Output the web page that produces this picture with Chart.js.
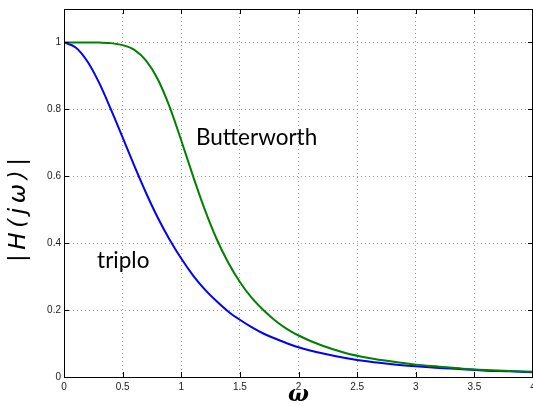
<!DOCTYPE html>
<html>
<head>
<meta charset="utf-8">
<script src="https://cdn.jsdelivr.net/npm/chart.js@4/dist/chart.umd.min.js"></script>
<style>
  html, body { margin: 0; padding: 0; background: #fff; }
  #wrap { width: 533px; height: 406px; }
</style>
</head>
<body>
<div id="wrap"><canvas id="chart" width="533" height="406"></canvas></div>
<script>
// frequency samples (omega) and magnitudes
const omega = [0, 0.1, 0.2, 0.3, 0.4, 0.5, 0.6, 0.7, 0.8, 0.9, 1.0,
  1.1, 1.2, 1.3, 1.4, 1.5, 1.6, 1.7, 1.8, 1.9, 2.0,
  2.2, 2.4, 2.6, 2.8, 3.0, 3.2, 3.4, 3.6, 3.8, 4.0];
const butterworth = [1, 1, 1, 0.9996, 0.998, 0.992, 0.978, 0.946, 0.890, 0.808, 0.707,
  0.601, 0.501, 0.414, 0.342, 0.284, 0.237, 0.200, 0.169, 0.144, 0.124,
  0.094, 0.072, 0.057, 0.046, 0.037, 0.031, 0.025, 0.021, 0.018, 0.016];
const triplo = [1, 0.985, 0.943, 0.879, 0.800, 0.716, 0.631, 0.550, 0.476, 0.411, 0.354,
  0.304, 0.262, 0.227, 0.196, 0.171, 0.149, 0.130, 0.115, 0.101, 0.089,
  0.071, 0.057, 0.046, 0.038, 0.032, 0.027, 0.023, 0.019, 0.017, 0.014];
const yTicks = [0, 0.2, 0.4, 0.6, 0.8, 1];

// text labels placed in data coordinates
const notes = [
  { text: 'Butterworth', x: 1.125, y: 0.692 },
  { text: 'triplo', x: 0.282, y: 0.327 }
];
const yTitle = '|\u2009H\u2009(\u2009j\u2009ω\u2009)\u2009|';

function toPoints(ys) {
  return omega.map(function(w, i) { return { x: w, y: ys[i] }; });
}

function tickText(v) {
  return String(Number(Number(v).toFixed(1)));
}

// frame around the plot, inward tick marks, y title and the curve labels
const framePlugin = {
  id: 'frame',
  afterDraw: function(chart) {
    const ctx = chart.ctx;
    const a = chart.chartArea;
    const xs = chart.scales.x;
    const ys = chart.scales.y;
    ctx.save();
    ctx.strokeStyle = '#000';
    ctx.lineWidth = 1;
    ctx.strokeRect(Math.round(a.left) + 0.5, Math.round(a.top) + 0.5,
      Math.round(a.right - a.left) - 1, Math.round(a.bottom - a.top));
    ctx.beginPath();
    xs.ticks.forEach(function(t) {
      const px = Math.round(xs.getPixelForValue(t.value)) + 0.5;
      ctx.moveTo(px, a.bottom); ctx.lineTo(px, a.bottom - 5);
      ctx.moveTo(px, a.top); ctx.lineTo(px, a.top + 5);
    });
    ys.ticks.forEach(function(t) {
      const py = Math.round(ys.getPixelForValue(t.value)) + 0.5;
      ctx.moveTo(a.left, py); ctx.lineTo(a.left + 5, py);
      ctx.moveTo(a.right, py); ctx.lineTo(a.right - 5, py);
    });
    ctx.stroke();

    ctx.fillStyle = '#000';
    ctx.font = '22.5px Lato';
    ctx.textBaseline = 'alphabetic';
    ctx.textAlign = 'left';
    notes.forEach(function(n) {
      ctx.fillText(n.text, xs.getPixelForValue(n.x), ys.getPixelForValue(n.y));
    });

    // y axis title, rotated
    ctx.translate(19, 210);
    ctx.rotate(-Math.PI / 2);
    ctx.font = 'italic 23px "DejaVu Sans"';
    ctx.textAlign = 'center';
    ctx.textBaseline = 'middle';
    ctx.fillText(yTitle, 0, 0);
    ctx.restore();
  }
};

const ctx = document.getElementById('chart').getContext('2d');
new Chart(ctx, {
  type: 'line',
  data: {
    datasets: [{
      label: 'Butterworth',
      data: toPoints(butterworth),
      borderColor: '#008000',
      borderWidth: 2,
      pointRadius: 0,
      cubicInterpolationMode: 'monotone',
      fill: false
    }, {
      label: 'triplo',
      data: toPoints(triplo),
      borderColor: '#0000ff',
      borderWidth: 2,
      pointRadius: 0,
      cubicInterpolationMode: 'monotone',
      fill: false
    }]
  },
  options: {
    responsive: false,
    animation: false,
    layout: { padding: { top: 8, right: 0, left: 0, bottom: 0 } },
    plugins: {
      legend: { display: false },
      tooltip: { enabled: false }
    },
    scales: {
      x: {
        type: 'linear',
        min: 0,
        max: 4,
        ticks: {
          stepSize: 0.5,
          padding: 4,
          color: '#222',
          font: { family: 'Liberation Sans', size: 10 },
          callback: tickText
        },
        grid: { color: '#999', drawTicks: false },
        border: { color: '#000', dash: [1, 3] },
        title: {
          display: true,
          text: 'ω',
          color: '#000',
          padding: { top: 0, bottom: 0 },
          font: { family: 'DejaVu Serif', size: 22, style: 'italic', weight: 'bold', lineHeight: 1 }
        },
        afterFit: function(scale) {
          scale.height = 29;
          scale.paddingLeft = 0;
          scale.paddingRight = 0;
        }
      },
      y: {
        min: 0,
        max: 1.1,
        afterBuildTicks: function(scale) {
          scale.ticks = yTicks.map(function(v) { return { value: v }; });
        },
        ticks: {
          padding: 3,
          color: '#222',
          font: { family: 'Liberation Sans', size: 10 },
          callback: tickText
        },
        grid: { color: '#999', drawTicks: false },
        border: { color: '#000', dash: [1, 3] },
        afterFit: function(scale) {
          scale.width = 64;
        }
      }
    }
  },
  plugins: [framePlugin]
});
</script>
</body>
</html>
